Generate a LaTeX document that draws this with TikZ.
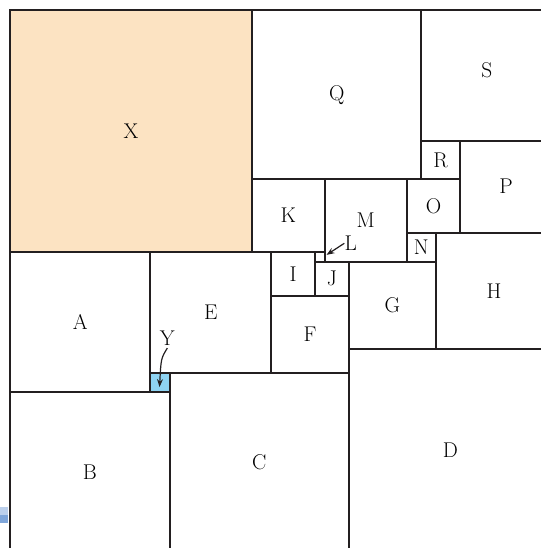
\documentclass[tikz,border=0pt]{standalone}
\usetikzlibrary{arrows.meta,positioning}

\definecolor{edge}{HTML}{231F20}
\definecolor{peach}{HTML}{FCE3C2}
\definecolor{skyblue}{HTML}{8ED3F2}
\definecolor{paleblue}{HTML}{BCD0EC}
\definecolor{midblue}{HTML}{7FA6DA}

\begin{document}
\begin{tikzpicture}[
x=3.63pt, y=-3.63pt,
square/.style={rectangle, draw=edge, line width=1.5pt, inner sep=0pt, outer sep=0pt,
  anchor=north west, minimum size=#1*3.63pt, font=\fontsize{16}{19}\selectfont},
tag/.style={inner sep=0pt, font=\fontsize{16}{19}\selectfont},
arrow/.style={-{Stealth[length=6pt,width=4.5pt]}, line width=0.9pt, draw=edge}
]

% visible part of the page
\fill[white] (-2.066,-2.066) rectangle (109.71,111.16);
\useasboundingbox (-2.066,-2.066) rectangle (109.71,111.16);
\clip (-2.066,-2.066) rectangle (109.71,111.16);

% cut-off arrow at the left margin
\fill[paleblue] (-2.066,102.7) rectangle (-0.41,104.3);
\fill[midblue] (-2.066,104.3) rectangle (-0.41,106.0);

% top band
\node[square=50, fill=peach] (X) at (0,0) {X};
\node[square=35] (Q) at (50,0) {Q};
\node[square=27] (S) at (85,0) {};
\node[square=8] (R) at (85,27) {R};
\node[square=19] (P) at (93,27) {P};
\node[tag] (Stext) at ([yshift=1.1*3.63pt]S.center) {S};

% middle band
\node[square=15] (K) at (50,35) {K};
\node[square=17] (M) at (65,35) {M};
\node[square=11] (O) at (82,35) {O};
\node[square=6] (N) at (82,46) {N};
\node[square=24] (H) at (88,46) {H};
\node[square=9] (I) at (54,50) {I};
\node[square=2] (L) at (63,50) {};
\node[square=7] (J) at (63,52) {J};
\node[square=18] (G) at (70,52) {G};
\node[square=16] (F) at (54,59) {F};

% lower band
\node[square=29] (A) at (0,50) {A};
\node[square=25] (E) at (29,50) {E};
\node[square=4, fill=skyblue] (Y) at (29,75) {};
\node[square=33] (B) at (0,79) {B};
\node[square=37] (C) at (33,75) {C};
\node[square=42] (D) at (70,70) {D};

% labels of the two smallest squares
\node[tag] (Ytext) at (32.5,67.9) {Y};
\coordinate (Ytip) at (30.9,77.9);
\draw[arrow] ([yshift=-0.4*3.63pt]Ytext.south) .. controls (31.2,72.0) .. (Ytip);

\node[tag] (Ltext) at (70.4,48.2) {L};
\coordinate (Ltip) at (65.4,50.6);
\draw[arrow] (Ltext.west) -- (Ltip);

\end{tikzpicture}
\end{document}
